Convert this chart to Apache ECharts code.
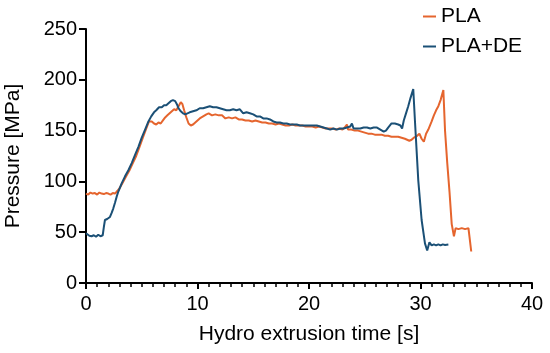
<!DOCTYPE html>
<html>
<head>
<meta charset="utf-8">
<script src="https://cdn.jsdelivr.net/npm/echarts@6/dist/echarts.min.js"></script>
<style>html,body{margin:0;padding:0;background:#fff}#c{width:550px;height:353px}</style>
</head>
<body>
<div id="c"></div>
<script>
var seriesNames = ['PLA', 'PLA+DE'];
var xTicks = [0, 10, 20, 30, 40];
var yTicks = [0, 50, 100, 150, 200, 250];

var plaTime = [0,0.2,0.4,0.6,0.8,1.0,1.2,1.4,1.6,1.8,2.0,2.2,2.4,2.6,2.75,3.0,3.3,3.6,3.9,4.2,4.5,4.8,5.1,5.4,5.65,5.9,6.1,6.3,6.5,6.7,6.9,7.1,7.3,7.5,7.7,7.9,8.1,8.3,8.5,8.65,8.8,9.0,9.2,9.4,9.6,9.8,10.0,10.2,10.5,10.8,11.0,11.3,11.6,11.9,12.2,12.5,12.8,13.1,13.4,13.7,14.0,14.3,14.6,14.9,15.2,15.5,15.8,16.1,16.4,16.7,17.0,17.3,17.6,17.9,18.2,18.5,18.8,19.1,19.4,19.7,20.0,20.3,20.6,20.9,21.2,21.5,21.8,22.1,22.4,22.7,23.0,23.2,23.4,23.5,23.8,24.1,24.4,24.7,25.0,25.3,25.6,25.9,26.2,26.5,26.8,27.1,27.4,27.7,28.0,28.3,28.6,28.8,29.0,29.2,29.4,29.6,29.9,30.1,30.3,30.5,30.7,31.0,31.2,31.4,31.6,31.8,31.95,32.05,32.2,32.4,32.6,32.8,33.0,33.15,33.4,33.7,34.0,34.3,34.4,34.55];
var plaPressure = [88,87,89,88,88.5,87,89,88,87.5,88.5,88,87,88.5,88,88.5,93,99,105,111,118,125,134,143,152,159,159,157,156,158,157,160,163,165,167,169,171,170,174,178,176,170,163,157,155,156,158,160,162,164,166,167,165,166,165,165,162,163,162,163,161,161,160,160,159,160,159,158,158,157,157,156,157,156,155,155,156,155,155,155,154,154,154,153,154,153,152,152,152,151,152,151,153,156,151,151,150,150,149,148,147,147,146,146,146,145,145,144,144,144,143,142,141,140,141,143,144,147,142,139,147,151,159,165,170,174,180,186,190,150,118,90,58,46,54,53,54,53,54,45,31];

var deTime = [0,0.15,0.3,0.5,0.7,0.9,1.1,1.3,1.5,1.6,1.7,1.9,2.15,2.3,2.45,2.6,2.75,2.9,3.2,3.5,3.8,4.1,4.4,4.7,5.0,5.3,5.6,5.85,6.1,6.3,6.55,6.8,7.0,7.2,7.4,7.6,7.8,8.0,8.15,8.3,8.5,8.7,8.9,9.1,9.3,9.6,9.9,10.2,10.5,10.8,11.1,11.4,11.7,12.0,12.3,12.6,12.9,13.2,13.5,13.8,14.1,14.4,14.7,15.0,15.3,15.6,15.9,16.2,16.5,16.8,17.1,17.4,17.7,18.0,18.3,18.6,18.9,19.2,19.5,19.8,20.1,20.4,20.7,21.0,21.3,21.6,21.9,22.2,22.5,22.8,23.1,23.4,23.7,23.85,24.0,24.3,24.6,24.9,25.2,25.5,25.8,26.1,26.4,26.7,26.9,27.1,27.4,27.7,28.0,28.2,28.35,28.5,28.7,28.9,29.1,29.35,29.5,29.8,30.1,30.4,30.6,30.8,31.0,31.2,31.4,31.6,31.8,32.0,32.2,32.5];
var dePressure = [49,48,46.5,46,47,45.5,47.5,46,47,55,62,63,65,69,73.5,79,85,90,98,105,111,118,126,134,143,151,159,164,168,170,173,173,175,175,177,179,180,179,176,172,169,167,166,167,168,169,170,172,172,173,174,173,173,172,171,170,170,171,170,171,167,168,167,166,164,164,162,162,161,159,158,158,157,157,156,156,156,155,155,155,155,155,155,154,153,152,151,152,151,152,152,153,154,157,152,152,152,153,153,152,153,153,151,149,150,153,157,157,156,155,152,160,167,174,182,191,160,101,62,39,32,40,37,38,37,38,37,38,37.5,38];

function pairs(xs, ys) { return xs.map(function (x, i) { return [x, ys[i]]; }); }

var chart = echarts.init(document.getElementById('c'), null, {renderer: 'canvas'});
var font = 'Liberation Sans, Arial, Helvetica, sans-serif';
chart.setOption({
  animation: false,
  backgroundColor: '#fff',
  textStyle: {fontFamily: font},
  grid: {left: 86, right: 18, top: 29, bottom: 70, containLabel: false, outerBoundsMode: 'none'},
  legend: {
    orient: 'vertical', left: 423, top: 6, padding: 0,
    icon: 'rect', itemWidth: 13, itemHeight: 2, itemGap: 9,
    textStyle: {fontSize: 21, color: '#000', fontFamily: font, lineHeight: 21},
    data: seriesNames
  },
  xAxis: {
    type: 'value', min: xTicks[0], max: xTicks[xTicks.length - 1], interval: 10,
    name: 'Hydro extrusion time [s]', nameLocation: 'middle', nameGap: 41,
    nameTextStyle: {fontSize: 21, color: '#000', fontFamily: font},
    axisLine: {show: true, lineStyle: {color: '#000', width: 2}},
    axisTick: {show: true, inside: false, length: 6, lineStyle: {color: '#000', width: 2}},
    minorTick: {show: true, splitNumber: 10, length: 4, lineStyle: {color: '#000', width: 1.5}},
    axisLabel: {fontSize: 20, color: '#000', margin: 11, fontFamily: font},
    splitLine: {show: false}
  },
  yAxis: {
    type: 'value', min: yTicks[0], max: yTicks[yTicks.length - 1], interval: 50,
    name: 'Pressure [MPa]', nameLocation: 'middle', nameGap: 62,
    nameTextStyle: {fontSize: 21, color: '#000', fontFamily: font},
    axisLine: {show: true, lineStyle: {color: '#000', width: 2}},
    axisTick: {show: true, inside: false, length: 7, lineStyle: {color: '#000', width: 2}},
    axisLabel: {fontSize: 20, color: '#000', margin: 9, fontFamily: font},
    splitLine: {show: false}
  },
  series: [
    {name: seriesNames[0], type: 'line', data: pairs(plaTime, plaPressure), showSymbol: false, symbol: 'none',
     color: '#E5652E', lineStyle: {color: '#E5652E', width: 2}, z: 2},
    {name: seriesNames[1], type: 'line', data: pairs(deTime, dePressure), showSymbol: false, symbol: 'none',
     color: '#1B5076', lineStyle: {color: '#1B5076', width: 2}, z: 3}
  ]
});
</script>
</body>
</html>
